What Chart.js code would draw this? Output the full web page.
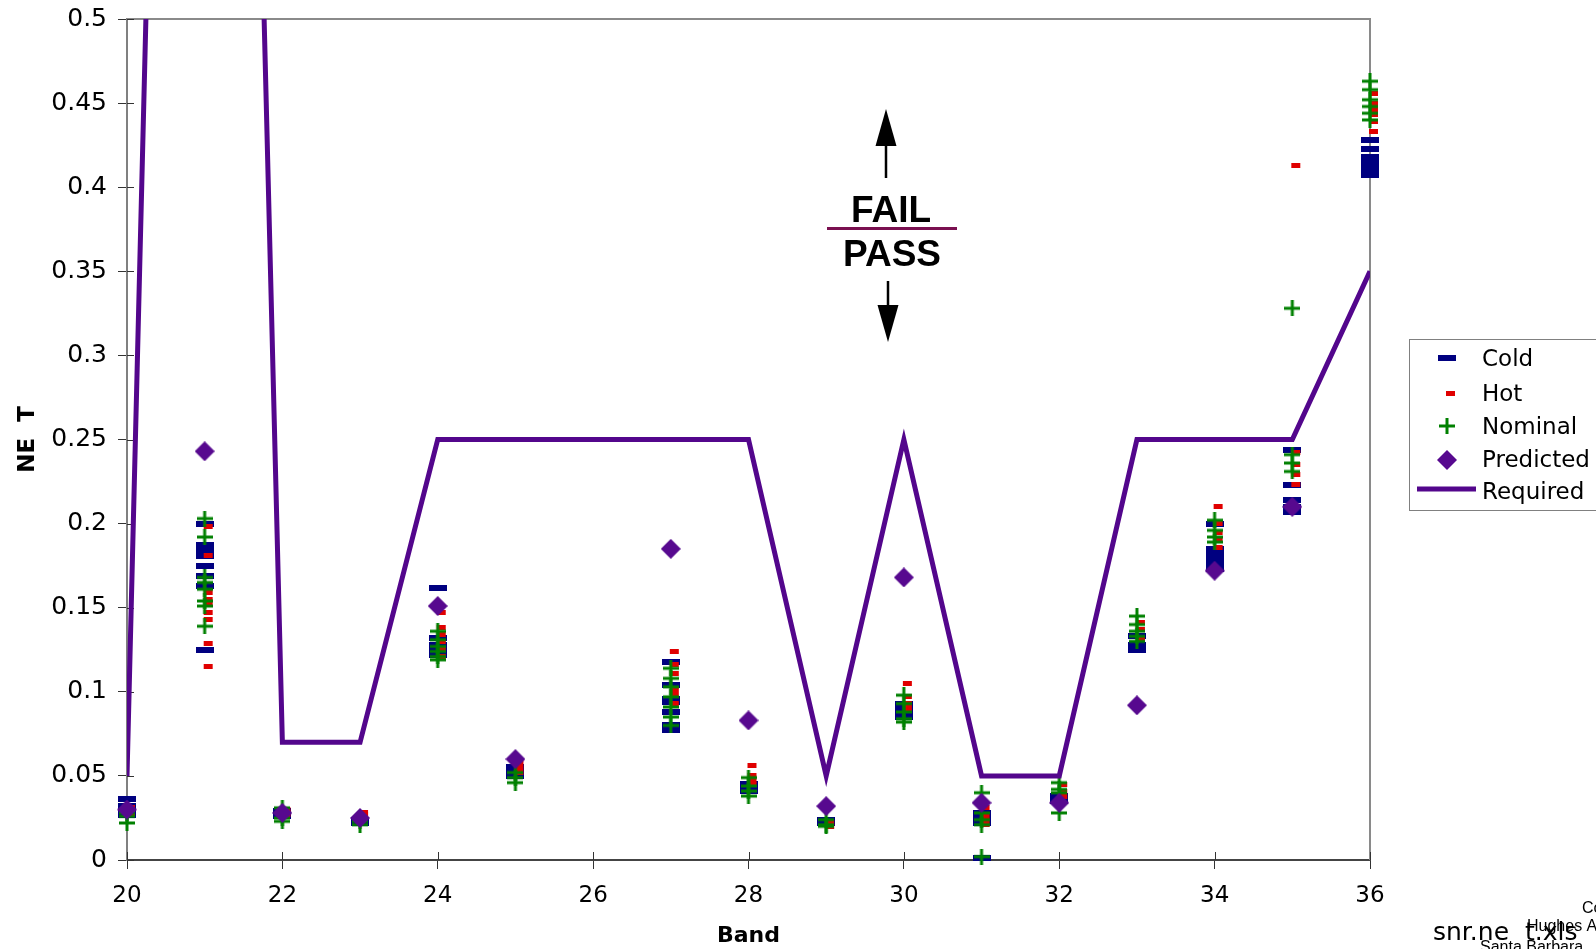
<!DOCTYPE html>
<html>
<head>
<meta charset="utf-8">
<script src="https://cdn.jsdelivr.net/npm/chart.js@4/dist/chart.umd.min.js"></script>
<style>
html,body{margin:0;padding:0;background:#fff;}
#wrap{position:relative;width:1596px;height:949px;}
</style>
</head>
<body>
<div id="wrap"><canvas id="c" width="1596" height="949"></canvas></div>
<script>
// ---- data ----
const bands = [20,21,22,23,24,25,26,27,28,29,30,31,32,33,34,35,36];
const required = [0.05,1.9,0.07,0.07,0.25,0.25,0.25,0.25,0.25,0.05,0.25,0.05,0.05,0.25,0.25,0.25,0.35];
const predicted = [0.030,0.243,0.028,0.025,0.151,0.060,null,0.185,0.083,0.032,0.168,0.034,0.034,0.092,0.172,0.210,null];
const cold = [
  [0.036,0.032,0.030,0.028,0.027],
  [0.200,0.187,0.184,0.181,0.175,0.169,0.163,0.125],
  [0.029,0.027,0.026],
  [0.024,0.023,0.022],
  [0.162,0.132,0.128,0.126,0.124,0.122],
  [0.055,0.052,0.050],
  [],
  [0.118,0.104,0.096,0.094,0.088,0.080,0.077],
  [0.045,0.043,0.041],
  [0.024,0.023,0.022],
  [0.093,0.089,0.087,0.085],
  [0.028,0.025,0.023,0.022,0.001],
  [0.038,0.036,0.035],
  [0.133,0.128,0.125],
  [0.200,0.185,0.182,0.179,0.176,0.173],
  [0.244,0.223,0.214,0.210,0.207],
  [0.428,0.423,0.418,0.415,0.412,0.409,0.407]
];
const hot = [
  [0.031,0.029,0.027],
  [0.198,0.181,0.159,0.155,0.152,0.147,0.143,0.129,0.115],
  [0.030,0.028,0.027],
  [0.028,0.027,0.025],
  [0.147,0.138,0.134,0.130,0.125,0.121],
  [0.058,0.055,0.052],
  [],
  [0.124,0.116,0.111,0.102,0.099,0.093],
  [0.056,0.050,0.047,0.045],
  [0.022,0.020],
  [0.105,0.097,0.093,0.090],
  [0.031,0.027,0.024,0.021],
  [0.045,0.041,0.038],
  [0.141,0.137,0.131],
  [0.210,0.200,0.195,0.190,0.186],
  [0.413,0.242,0.235,0.229,0.223],
  [0.456,0.450,0.446,0.443,0.439,0.433]
];
const nominal = [
  [0.030,0.028,0.026,0.022],
  [0.203,0.192,0.168,0.165,0.161,0.154,0.151,0.139],
  [0.031,0.025,0.023],
  [0.023,0.021],
  [0.136,0.131,0.127,0.124,0.121,0.119],
  [0.052,0.049,0.046],
  [],
  [0.114,0.108,0.103,0.097,0.091,0.085,0.080],
  [0.049,0.044,0.041,0.038],
  [0.024,0.021,0.020],
  [0.098,0.093,0.088,0.084,0.082],
  [0.040,0.028,0.024,0.021,0.002],
  [0.046,0.042,0.040,0.028],
  [0.145,0.140,0.136,0.133,0.130],
  [0.202,0.196,0.192,0.189],
  [0.328,0.241,0.236,0.231],
  [0.463,0.458,0.452,0.448,0.444,0.440]
];
const seriesNames = ['Cold','Hot','Nominal','Predicted','Required'];
const xTicks = {min:20, max:36, step:2};
const yTicks = {min:0, max:0.5, step:0.05};

// ---- styling ----
const NAVY='#000080', RED='#e00000', GREEN='#008000', PURPLE='#57098f', LINEPURPLE='#53068c';
function mk(w,h,draw){const c=document.createElement('canvas');c.width=w;c.height=h;draw(c.getContext('2d'));return c;}
const coldImg = mk(18,6,g=>{g.fillStyle=NAVY;g.fillRect(0,0,18,6);});
const hotImg = mk(18,5,g=>{g.fillStyle=RED;g.fillRect(8,0,9,5);});
const nomImg = mk(16,16,g=>{g.fillStyle=GREEN;g.fillRect(6.5,0,3,16);g.fillRect(0,6.5,16,3);});
const diaImg = mk(20,20,g=>{g.fillStyle=PURPLE;g.beginPath();g.moveTo(10,0);g.lineTo(20,10);g.lineTo(10,20);g.lineTo(0,10);g.closePath();g.fill();});

function pts(lists){const out=[];lists.forEach((l,i)=>l.forEach(v=>out.push({x:bands[i],y:v})));return out;}
function single(arr){const out=[];arr.forEach((v,i)=>{if(v!==null)out.push({x:bands[i],y:v});});return out;}

const FONT='"DejaVu Sans", Verdana, sans-serif';

const decor = {
  id:'decor',
  beforeDatasetsDraw(chart){
    const {ctx, chartArea:a} = chart;
    ctx.save();
    ctx.strokeStyle='#8a8a8a'; ctx.lineWidth=2;
    ctx.beginPath(); ctx.moveTo(a.left,a.top); ctx.lineTo(a.right,a.top); ctx.lineTo(a.right,a.bottom); ctx.stroke();
    // inner halves of the cross tick marks
    const x=chart.scales.x, y=chart.scales.y;
    ctx.strokeStyle='#333'; ctx.lineWidth=1;
    ctx.beginPath();
    for(let v=yTicks.min; v<=yTicks.max+1e-9; v+=yTicks.step){const py=Math.round(y.getPixelForValue(v))+0.5; ctx.moveTo(a.left,py); ctx.lineTo(a.left+7,py);}
    for(let v=xTicks.min; v<=xTicks.max+1e-9; v+=xTicks.step){const px=Math.round(x.getPixelForValue(v))+0.5; ctx.moveTo(px,a.bottom); ctx.lineTo(px,a.bottom-8);}
    ctx.stroke();
    ctx.restore();
  },
  afterDraw(chart){
    const ctx=chart.ctx;
    ctx.save();
    // FAIL / PASS annotation
    ctx.fillStyle='#000'; ctx.strokeStyle='#000';
    ctx.lineWidth=2.5;
    ctx.beginPath(); ctx.moveTo(886,178); ctx.lineTo(886,140); ctx.stroke();
    ctx.beginPath(); ctx.moveTo(886,109); ctx.lineTo(896.5,146); ctx.lineTo(875.5,146); ctx.closePath(); ctx.fill();
    ctx.beginPath(); ctx.moveTo(888,281); ctx.lineTo(888,310); ctx.stroke();
    ctx.beginPath(); ctx.moveTo(888,342); ctx.lineTo(898.5,305); ctx.lineTo(877.5,305); ctx.closePath(); ctx.fill();
    ctx.font='bold 37px "Liberation Sans", Arial, sans-serif';
    ctx.textAlign='center'; ctx.textBaseline='alphabetic';
    ctx.fillText('FAIL',891,222);
    ctx.fillText('PASS',892,266);
    ctx.strokeStyle='#7a1050'; ctx.lineWidth=3;
    ctx.beginPath(); ctx.moveTo(827,228.5); ctx.lineTo(957,228.5); ctx.stroke();

    // legend
    ctx.strokeStyle='#808080'; ctx.lineWidth=1;
    ctx.strokeRect(1409.5,339.5,200,171);
    const rows=[358,393,426,460,490];
    ctx.drawImage(coldImg,1447-9,rows[0]-3);
    ctx.drawImage(hotImg,1447-9,rows[1]-2.5);
    ctx.drawImage(nomImg,1447-8,rows[2]-8);
    ctx.drawImage(diaImg,1447-10,rows[3]-10);
    ctx.strokeStyle=LINEPURPLE; ctx.lineWidth=5;
    ctx.beginPath(); ctx.moveTo(1417,rows[4]-1); ctx.lineTo(1476,rows[4]-1); ctx.stroke();
    ctx.fillStyle='#000'; ctx.font='23px '+FONT; ctx.textAlign='left'; ctx.textBaseline='middle';
    const textRows=[360,395,428,461,493];
    seriesNames.forEach((n,i)=>ctx.fillText(n,1482,textRows[i]));

    // footer texts
    ctx.textBaseline='alphabetic';
    ctx.font='25px '+FONT;
    ctx.fillText('snr.ne  t.xls',1433,940);
    ctx.font='16px "Liberation Sans", Arial, sans-serif';
    ctx.fillText('Co',1582,913);
    ctx.fillText('Hughes A',1527,931);
    ctx.fillText('Santa Barbara',1480,952);
    ctx.restore();
  }
};

new Chart(document.getElementById('c'), {
  type:'scatter',
  data:{
    datasets:[
      {label:'Cold', data:pts(cold), pointStyle:coldImg, order:4, clip:false},
      {label:'Hot', data:pts(hot), pointStyle:hotImg, order:3, clip:false},
      {label:'Nominal', data:pts(nominal), pointStyle:nomImg, order:2, clip:false},
      {label:'Predicted', data:single(predicted), pointStyle:diaImg, order:1, clip:false},
      {label:'Required', data:single(required), showLine:true, borderColor:LINEPURPLE, backgroundColor:LINEPURPLE,
        borderWidth:5, pointRadius:0, pointHoverRadius:0, tension:0, order:0, borderJoinStyle:'miter'}
    ]
  },
  options:{
    responsive:false, animation:false, devicePixelRatio:1,
    layout:{padding:{top:19,right:226,left:0,bottom:0}},
    plugins:{legend:{display:false}, tooltip:{enabled:false}},
    events:[],
    scales:{
      x:{type:'linear', min:xTicks.min, max:xTicks.max,
        afterFit(s){s.height=89; s.paddingLeft=0; s.paddingRight=0;},
        ticks:{stepSize:xTicks.step, color:'#000', font:{family:FONT,size:23}, padding:13, maxRotation:0},
        grid:{drawOnChartArea:false, drawTicks:true, tickLength:9, color:'#333'},
        border:{color:'#444', width:2},
        title:{display:true, text:'Band', color:'#000', font:{family:FONT,size:22,weight:'bold'}, padding:{top:0,bottom:0}}
      },
      y:{type:'linear', min:yTicks.min, max:yTicks.max,
        afterFit(s){s.width=127; s.paddingTop=0; s.paddingBottom=0;},
        ticks:{stepSize:yTicks.step, color:'#000', font:{family:FONT,size:25}, padding:11,
          callback:v=>String(+v.toFixed(2))},
        grid:{drawOnChartArea:false, drawTicks:true, tickLength:9, color:'#333'},
        border:{color:'#808080', width:2},
        title:{display:true, text:'NE  T', color:'#000', font:{family:FONT,size:23,weight:'bold'}, padding:{top:14,bottom:0}}
      }
    }
  },
  plugins:[decor]
});
</script>
</body>
</html>
